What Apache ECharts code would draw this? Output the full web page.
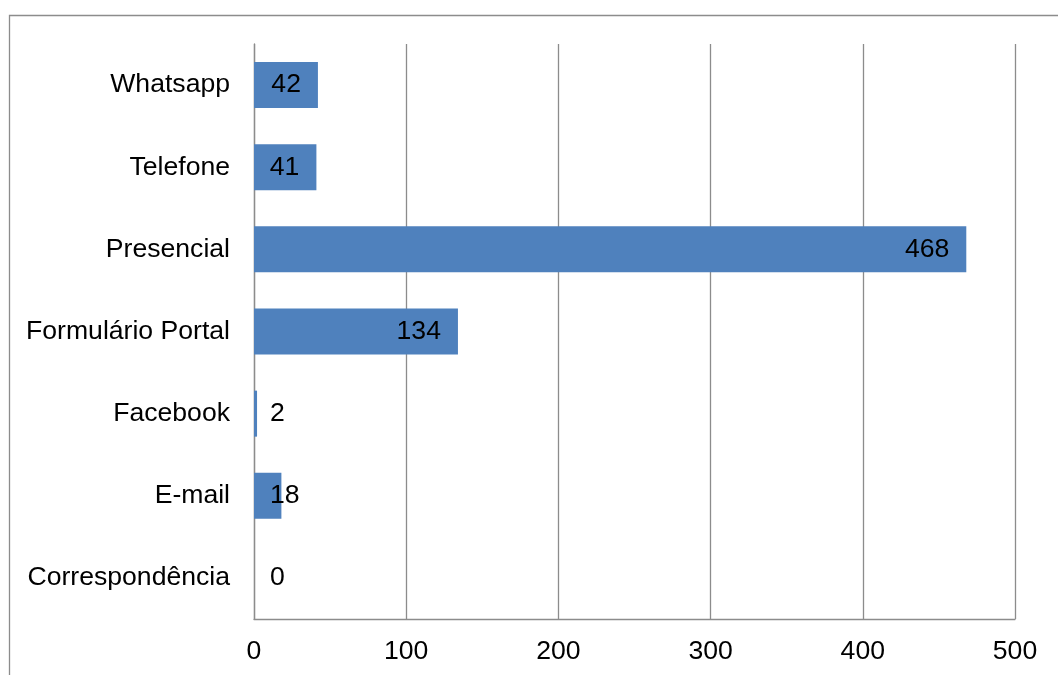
<!DOCTYPE html>
<html>
<head>
<meta charset="utf-8">
<script src="https://cdn.jsdelivr.net/npm/echarts@6/dist/echarts.min.js"></script>
<style>
html,body{margin:0;padding:0;background:#fff;}
#chart{width:1058px;height:675px;}
</style>
</head>
<body>
<div id="chart"></div>
<script>
var categories = ['Correspondência', 'E-mail', 'Facebook', 'Formulário Portal', 'Presencial', 'Telefone', 'Whatsapp'];
var values = [0, 18, 2, 134, 468, 41, 42];
var xTicks = [0, 100, 200, 300, 400, 500];

var FONT = '"Liberation Sans", Arial, sans-serif';
var FS = 26.6;
var chart = echarts.init(document.getElementById('chart'));

var data = values.map(function (v) {
  var small = v < 30;
  return {
    value: v,
    label: small ? { position: 'insideLeft', distance: 16 } : { position: 'insideRight', distance: 17 }
  };
});

chart.setOption({
  animation: false,
  backgroundColor: '#ffffff',
  graphic: [{
    type: 'rect',
    shape: { x: 9.5, y: 15.5, width: 1200, height: 800 },
    style: { fill: 'none', stroke: '#8c8c8c', lineWidth: 1.3 },
    silent: true
  }],
  grid: { left: 254, right: 43, top: 44, bottom: 56, containLabel: false },
  xAxis: {
    type: 'value',
    min: xTicks[0],
    max: xTicks[xTicks.length - 1],
    interval: 100,
    axisLine: { show: true, lineStyle: { color: '#8c8c8c', width: 1.3 } },
    axisTick: { show: false },
    splitLine: { show: true, lineStyle: { color: '#8c8c8c', width: 1.3 } },
    axisLabel: { color: '#000', fontFamily: FONT, fontSize: FS, margin: 19 }
  },
  yAxis: {
    type: 'category',
    data: categories,
    axisLine: { show: true, lineStyle: { color: '#8c8c8c', width: 1.3 } },
    axisTick: { show: false },
    axisLabel: { color: '#000', fontFamily: FONT, fontSize: FS, margin: 24 }
  },
  series: [{
    type: 'bar',
    data: data,
    barWidth: 46,
    itemStyle: { color: '#4F81BD' },
    label: { show: true, color: '#000', fontFamily: FONT, fontSize: FS }
  }]
});
</script>
</body>
</html>
